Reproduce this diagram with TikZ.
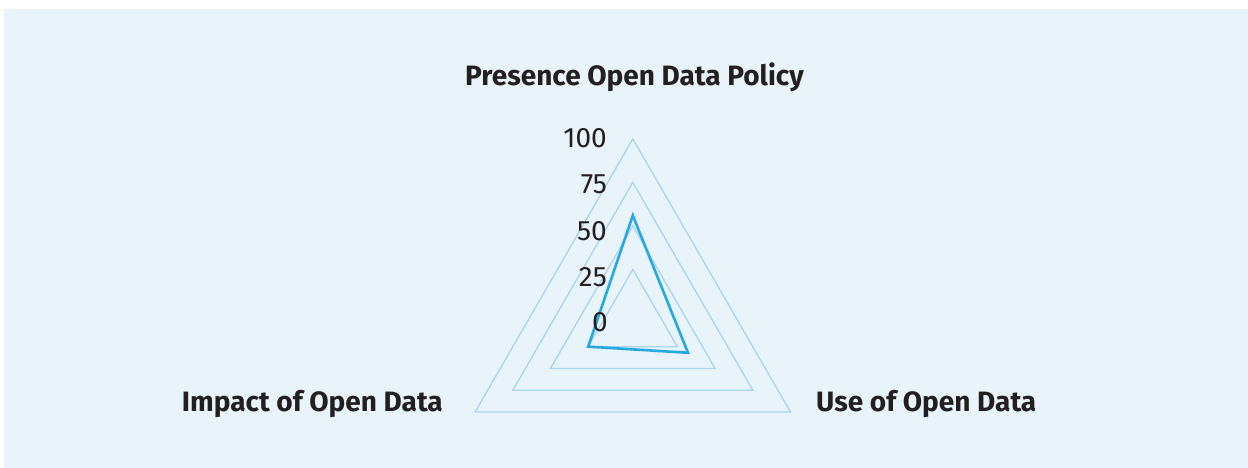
\documentclass[tikz,border=0pt]{standalone}
\usepackage{fontspec}
\setmainfont{Fira Sans}
\usetikzlibrary{calc}
\definecolor{bgblue}{HTML}{E8F3FA}
\definecolor{gridblue}{HTML}{A9D5F0}
\definecolor{lineblue}{HTML}{25A9E0}
\definecolor{txt}{HTML}{231F20}
\tikzstyle{gridline}=[draw=gridblue,line width=1.3pt,line join=miter]
\tikzstyle{series}=[draw=lineblue,line width=2.6pt,line join=miter]
\tikzstyle{axlbl}=[font=\fontsize{28}{32}\selectfont\bfseries,text=txt,inner sep=0pt]
\tikzstyle{tick}=[font=\fontsize{28}{32}\selectfont,text=txt,anchor=east,inner sep=0pt]

\begin{document}
\begin{tikzpicture}[x=1pt,y=-1pt]
\useasboundingbox (0,0) rectangle (1248,468);
\fill[bgblue] (4,9) rectangle (1248,468);
\coordinate (c) at (632.8,320.9);
% grid triangles, r = 8 + 1.74 v
\foreach \v in {25,50,75,100}{
  \pgfmathsetmacro{\r}{8+1.74*\v}
  \draw[gridline] ($(c)+(-90:\r)$) -- ($(c)+(30:\r)$) -- ($(c)+(150:\r)$) -- cycle;
}
% data
\coordinate (dp) at ($(c)+(-90:105.4)$);
\coordinate (du) at ($(c)+(30:63.7)$);
\coordinate (di) at ($(c)+(150:51.5)$);
\draw[series] (dp) -- (du) -- (di) -- cycle;
% ticks
\node[tick] (t100) at (607,138.5) {100};
\node[tick] (t75) at (607,184.5) {75};
\node[tick] (t50) at (607,231) {50};
\node[tick] (t25) at (607,277.5) {25};
\node[tick] (t0) at (608,322) {0};
% axis titles
\node[axlbl] (pres) at (634.5,77) {Presence Open Data Policy};
\node[axlbl,anchor=east] (imp) at (443,404) {Impact of Open Data};
\node[axlbl,anchor=west] (use) at (816,404) {Use of Open Data};
\end{tikzpicture}
\end{document}
